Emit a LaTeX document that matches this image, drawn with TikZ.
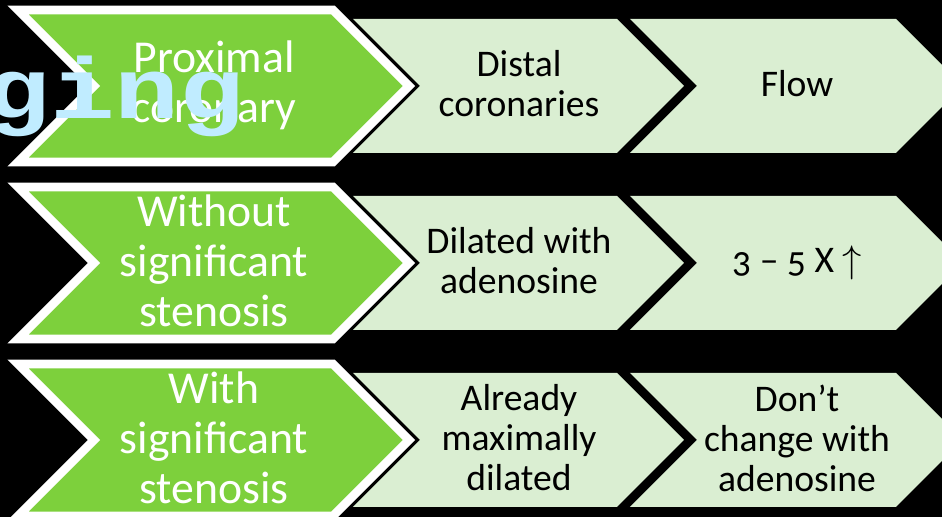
\documentclass[tikz,border=0pt]{standalone}
\usepackage{fontspec}
\setmainfont{Carlito}
\newfontfamily\gingfont{Liberation Mono}
\usetikzlibrary{positioning}
\definecolor{leafgreen}{RGB}{125,208,60}
\definecolor{palegreen}{RGB}{218,238,210}
\definecolor{skyblue}{RGB}{192,236,255}
% chevron: #2 left x, #3 centre y, #4 flat top length, #5 half height
\newcommand*{\chev}[5][]{%
  \path[#1] (#2,#3-#5) -- ++(#4,0) -- ++(#5,#5) -- ++(-#5,#5)
    -- ++(-#4,0) -- ++(#5,-#5) -- cycle;
}

\begin{document}
\begin{tikzpicture}[x=0.1mm,y=-0.1mm,
    greenchev/.style = {fill=leafgreen, draw=white, line width=2.5},
    palechev/.style  = {fill=palegreen},
    greentext/.style = {align=center, text=white,
      font=\fontsize{13}{14.2}\selectfont},
    paletext/.style  = {align=center, text=black,
      font=\fontsize{10.7}{11.4}\selectfont},
    gingtext/.style  = {text=skyblue, inner sep=0pt,
      font=\gingfont\bfseries\fontsize{30.7}{30}\selectfont},
  ]
  \fill[black] (0,0) rectangle (942,517);
  \useasboundingbox (0,0) rectangle (942,517);
  \clip (0,0) rectangle (942,517);

  % the three rows of chevrons
  \foreach \c in {86,263,440} {
    \chev[greenchev]{18}{\c}{315}{76}
    \chev[palechev]{353}{\c}{264}{67}
    \chev[palechev]{630}{\c}{266}{67}
  }

  % row 1
  \node[greentext] (prox)   at (214,85) {Proximal\\coronary};
  \node[paletext]  (distal) at (519,84) {Distal\\coronaries};
  \node[paletext]  (flow)   at (797,84) {Flow};
  % row 2
  \node[greentext] (without) at (214,261) {Without\\significant\\stenosis};
  \node[paletext]  (dilated) at (519,261) {Dilated with\\adenosine};
  \node[paletext]  (rise)    at (797,263)
    {\addfontfeatures{Numbers=OldStyle}3 – 5 X $\uparrow$};
  % row 3
  \node[greentext] (with)     at (214,438) {With\\significant\\stenosis};
  \node[paletext]  (maxdil)   at (519,438) {Already\\maximally\\dilated};
  \node[paletext]  (nochange) at (797,438) {Don’t\\change with\\adenosine};

  % title text running in from the left
  \node[gingtext, anchor=base east] (ging) at (245,119)
    {\scalebox{1}[0.8]{ging}};
\end{tikzpicture}
\end{document}
